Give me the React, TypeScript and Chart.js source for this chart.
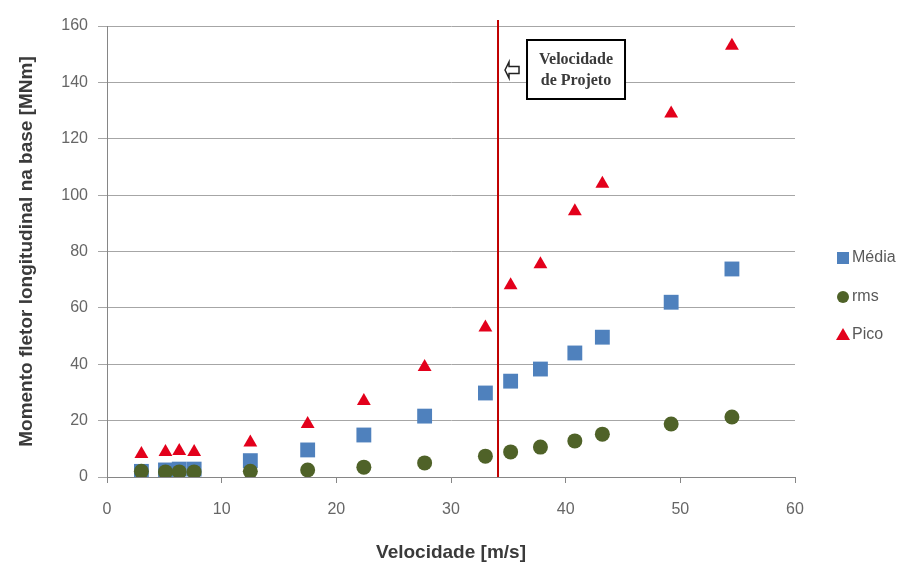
import React, { useEffect, useRef } from "react";
import Chart from "chart.js/auto";

const velocidade = [3, 5.1, 6.3, 7.6, 12.5, 17.5, 22.4, 27.7, 33, 35.2, 37.8, 40.8, 43.2, 49.2, 54.5];
const media = [2, 2.5, 2.8, 2.8, 5.8, 9.6, 14.9, 21.6, 29.8, 34, 38.3, 44, 49.6, 62, 73.8];
const rms = [2, 1.8, 1.8, 1.8, 2, 2.5, 3.5, 5, 7.4, 8.9, 10.6, 12.8, 15.2, 18.8, 21.3];
const pico = [8.2, 8.9, 9.2, 8.9, 12.2, 18.8, 27, 39, 53, 68, 75.5, 94.3, 104, 129, 153];
const seriesNames = ["Média", "rms", "Pico"];
const seriesColors = ["#4f81bd", "#4f6228", "#e3001b"];
const seriesShapes = ["rect", "circle", "triangle"];
const velocidadeProjeto = 34.1;
const anotacao = ["Velocidade", "de Projeto"];
const xTitle = "Velocidade [m/s]";
const yTitle = "Momento fletor longitudinal na base [MNm]";

const FONT = "'Liberation Sans', Arial, sans-serif";

const overlayPlugin = {
  id: "overlay",
  afterDatasetsDraw(chart: any) {
    const { ctx, chartArea, scales } = chart;
    const x = scales.x.getPixelForValue(velocidadeProjeto);
    ctx.save();
    // design speed line
    ctx.strokeStyle = "#c00000";
    ctx.lineWidth = 2;
    ctx.beginPath();
    ctx.moveTo(x, chartArea.top - 6);
    ctx.lineTo(x, chartArea.bottom);
    ctx.stroke();

    // annotation box
    const bx = x + 29, by = chartArea.top + 14, bw = 98, bh = 59;
    ctx.fillStyle = "#ffffff";
    ctx.fillRect(bx, by, bw, bh);
    ctx.strokeStyle = "#000000";
    ctx.lineWidth = 2;
    ctx.strokeRect(bx, by, bw, bh);
    ctx.fillStyle = "#3a3a3a";
    ctx.font = "bold 16px 'Liberation Serif', 'Times New Roman', serif";
    ctx.textAlign = "center";
    ctx.textBaseline = "middle";
    ctx.fillText(anotacao[0], bx + bw / 2, by + 20);
    ctx.fillText(anotacao[1], bx + bw / 2, by + 41);

    // hollow arrow pointing left
    const ax = x + 7, ay = by + 30;
    ctx.strokeStyle = "#222222";
    ctx.lineWidth = 1.5;
    ctx.beginPath();
    ctx.moveTo(ax, ay);
    ctx.lineTo(ax + 4, ay - 8);
    ctx.lineTo(ax + 4, ay - 3.5);
    ctx.lineTo(ax + 14, ay - 3.5);
    ctx.lineTo(ax + 14, ay + 3.5);
    ctx.lineTo(ax + 4, ay + 3.5);
    ctx.lineTo(ax + 4, ay + 8);
    ctx.closePath();
    ctx.stroke();

    // legend
    const lx = chartArea.right + 48;
    const ly = [258, 297, 335];
    for (let i = 0; i < seriesNames.length; i++) {
      const cy = ly[i];
      ctx.fillStyle = seriesColors[i];
      ctx.beginPath();
      if (seriesShapes[i] === "rect") {
        ctx.rect(lx - 6, cy - 6, 12, 12);
      } else if (seriesShapes[i] === "circle") {
        ctx.arc(lx, cy, 6, 0, Math.PI * 2);
      } else {
        ctx.moveTo(lx, cy - 7);
        ctx.lineTo(lx + 7, cy + 5);
        ctx.lineTo(lx - 7, cy + 5);
        ctx.closePath();
      }
      ctx.fill();
      ctx.fillStyle = "#595959";
      ctx.font = `16px ${FONT}`;
      ctx.textAlign = "left";
      ctx.textBaseline = "middle";
      ctx.fillText(seriesNames[i], lx + 9, cy);
    }
    ctx.restore();
  },
};

export default function App() {
  const ref = useRef<HTMLCanvasElement | null>(null);
  useEffect(() => {
    if (!ref.current) return;
    const mk = (vals: number[]) => velocidade.map((v, i) => ({ x: v, y: vals[i] }));
    const chart = new Chart(ref.current, {
      type: "scatter",
      data: {
        datasets: [
          { label: seriesNames[2], data: mk(pico), pointStyle: "triangle", pointRadius: 8, backgroundColor: seriesColors[2], borderColor: seriesColors[2], borderWidth: 0, order: 0 },
          { label: seriesNames[1], data: mk(rms), pointStyle: "circle", pointRadius: 7.5, backgroundColor: seriesColors[1], borderColor: seriesColors[1], borderWidth: 0, order: 1 },
          { label: seriesNames[0], data: mk(media), pointStyle: "rect", pointRadius: 10.5, backgroundColor: seriesColors[0], borderColor: seriesColors[0], borderWidth: 0, order: 2 },
        ],
      },
      options: {
        animation: false,
        responsive: true,
        maintainAspectRatio: false,
        layout: { padding: { top: 26, right: 119, left: 0, bottom: 0 } },
        plugins: { legend: { display: false }, tooltip: { enabled: false } },
        scales: {
          x: {
            type: "linear",
            min: 0,
            max: 60,
            ticks: { stepSize: 10, color: "#666666", font: { family: FONT, size: 16 }, padding: 17 },
            grid: { drawOnChartArea: false, tickLength: 6, color: "#868686" },
            border: { color: "#868686", width: 1 },
            title: { display: true, text: xTitle, color: "#3a3a3a", font: { family: FONT, size: 19, weight: "bold" }, padding: { top: 0, bottom: 1 } },
            afterFit: (s: any) => { s.height = 88; },
          },
          y: {
            type: "linear",
            min: 0,
            max: 160,
            ticks: { stepSize: 20, color: "#666666", font: { family: FONT, size: 16 }, padding: 10 },
            grid: { color: "#a6a6a6", tickLength: 9 },
            border: { color: "#868686", width: 1 },
            title: { display: true, text: yTitle, color: "#3a3a3a", font: { family: FONT, size: 19, weight: "bold" }, padding: { top: 15, bottom: 0 } },
            afterFit: (s: any) => { s.width = 107; },
          },
        },
      },
      plugins: [overlayPlugin],
    } as any);
    return () => chart.destroy();
  }, []);
  return (
    <div style={{ position: "fixed", left: 0, top: 0, width: 914, height: 565, background: "#fff" }}>
      <canvas ref={ref} />
    </div>
  );
}
